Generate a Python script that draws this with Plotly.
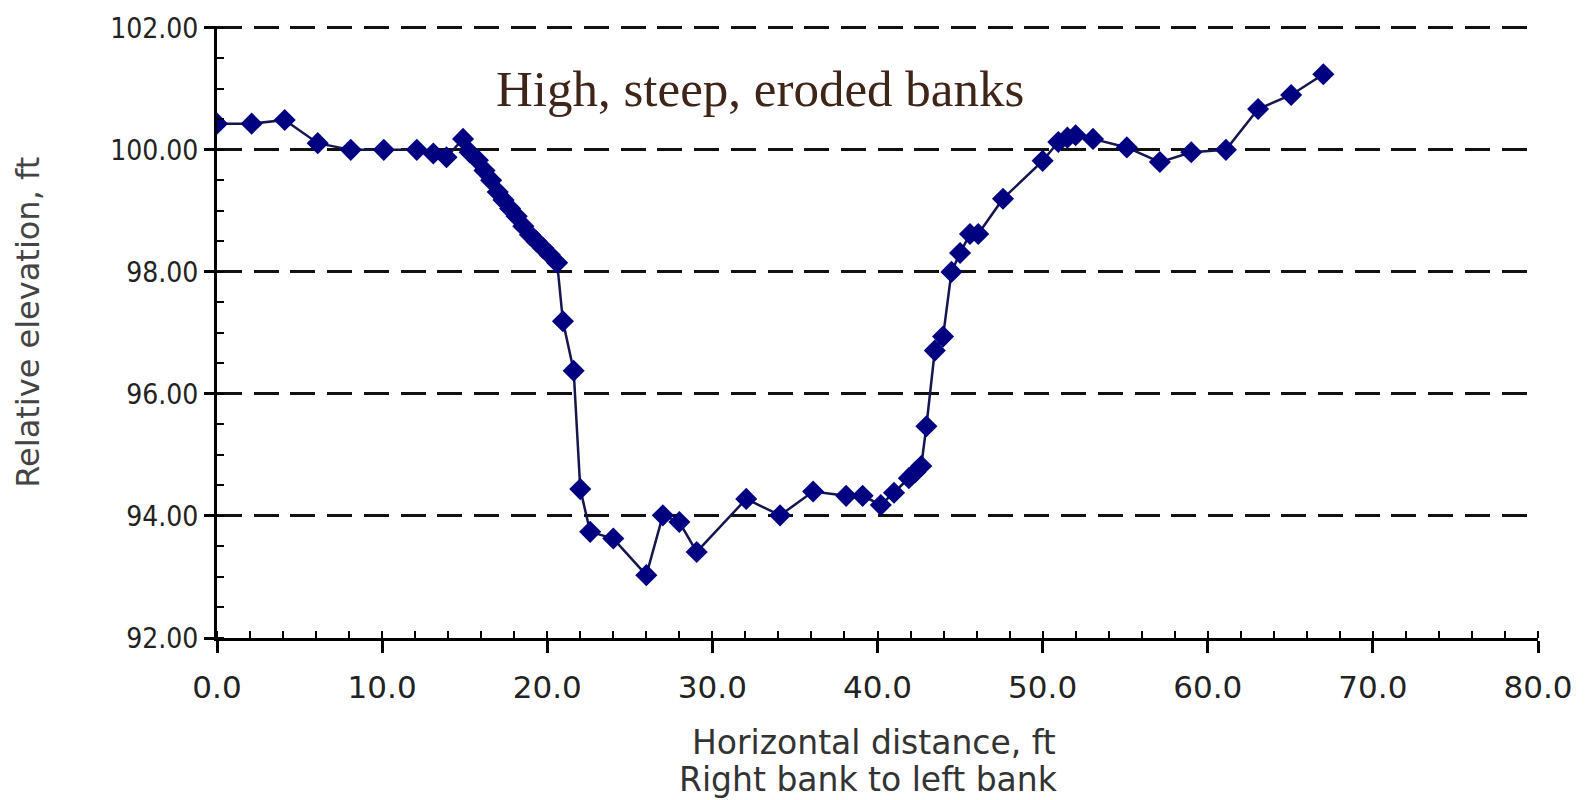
import plotly.graph_objects as go

# Cross-section survey: horizontal distance (ft) vs relative elevation (ft)
distance_ft = [0.0, 2.1, 4.1, 6.1, 8.1, 10.1, 12.1, 13.1, 13.9, 14.9,
               15.3, 15.8, 16.2, 16.6, 17.0, 17.35, 17.75, 18.15, 18.55, 18.95,
               19.35, 19.75, 20.15, 20.6,
               20.95, 21.6, 22.0, 22.6, 24.0, 26.0, 27.0, 28.0, 29.05, 32.05,
               34.1, 36.1, 38.1, 39.1, 40.2, 41.0, 41.9, 42.3, 42.65, 42.96,
               43.47, 43.97, 44.48, 45.0, 45.6, 46.1, 47.6, 50.0, 50.95, 51.5,
               52.0, 53.05, 55.1, 57.1, 59.0, 61.1, 63.05, 65.05, 67.0]
elevation_ft = [100.43, 100.43, 100.49, 100.11, 100.0, 100.0, 100.0, 99.94, 99.88, 100.18,
                99.96, 99.83, 99.66, 99.5, 99.31, 99.18, 99.04, 98.91, 98.75, 98.61,
                98.5, 98.39, 98.28, 98.15,
                97.19, 96.38, 94.44, 93.74, 93.63, 93.03, 94.01, 93.9, 93.41, 94.28,
                94.01, 94.4, 94.33, 94.33, 94.18, 94.38, 94.62, 94.72, 94.82, 95.47,
                96.71, 96.94, 98.0, 98.31, 98.62, 98.62, 99.2, 99.82, 100.13, 100.2,
                100.24, 100.18, 100.04, 99.8, 99.96, 100.0, 100.67, 100.9, 101.24]

x_range = [0, 80]
y_range = [92, 102.03]
title_text = "High, steep, eroded banks"
x_title_1 = "Horizontal distance, ft"
x_title_2 = "Right bank to left bank"
y_title = "Relative elevation, ft"

y_tick_font = "DejaVu Sans Condensed, DejaVu Sans, sans-serif"
x_tick_font = "DejaVu Sans, sans-serif"
title_font = "DejaVu Sans, sans-serif"

fig = go.Figure()
fig.add_trace(go.Scatter(
    x=distance_ft, y=elevation_ft,
    mode="lines+markers",
    line=dict(color="#15154f", width=2.5),
    marker=dict(symbol="diamond", size=17, color="#000080", line=dict(width=0)),
    showlegend=False, hoverinfo="x+y",
))

fig.update_layout(
    width=1585, height=800,
    margin=dict(l=217, r=46, t=24, b=162),
    paper_bgcolor="white", plot_bgcolor="white",
    xaxis=dict(
        range=x_range, dtick=10, tick0=0, tickformat=".1f",
        ticks="outside", ticklen=12, tickwidth=2.5, tickcolor="black",
        showline=True, linewidth=3, linecolor="black",
        showgrid=False, zeroline=False,
        tickfont=dict(family=x_tick_font, size=31, color="#222"),
        ticklabelstandoff=8,
        minor=dict(dtick=2, ticks="inside", ticklen=7, tickwidth=2, tickcolor="black"),
    ),
    yaxis=dict(
        range=y_range, dtick=2, tick0=92, tickformat=".2f",
        ticks="outside", ticklen=10, tickwidth=2.5, tickcolor="black",
        showline=True, linewidth=3, linecolor="black",
        showgrid=True, gridcolor="#111", gridwidth=3, griddash="25px,11.7px",
        zeroline=False,
        tickfont=dict(family=y_tick_font, size=28, color="#222"),
        ticklabelstandoff=0,
        minor=dict(dtick=0.5, ticks="inside", ticklen=7, tickwidth=2, tickcolor="black"),
    ),
    annotations=[
        dict(text=title_text, x=32.9, y=101.0, xref="x", yref="y",
             showarrow=False, xanchor="center", yanchor="middle",
             font=dict(family="Liberation Serif, serif", size=51, color="#3f2418")),
        dict(text=x_title_1, x=0.497, y=-(743 - 638) / 614, xref="paper", yref="paper",
             showarrow=False, xanchor="center", yanchor="middle",
             font=dict(family=title_font, size=33, color="#333")),
        dict(text=x_title_2, x=0.493, y=-(779.5 - 638) / 614, xref="paper", yref="paper",
             showarrow=False, xanchor="center", yanchor="middle",
             font=dict(family=title_font, size=33, color="#333")),
        dict(text=y_title, x=(27.5 - 217) / 1322, y=(638 - 321) / 614, xref="paper", yref="paper",
             showarrow=False, xanchor="center", yanchor="middle", textangle=-90,
             font=dict(family=title_font, size=32, color="#444")),
    ],
)

fig.write_html("out.html")
